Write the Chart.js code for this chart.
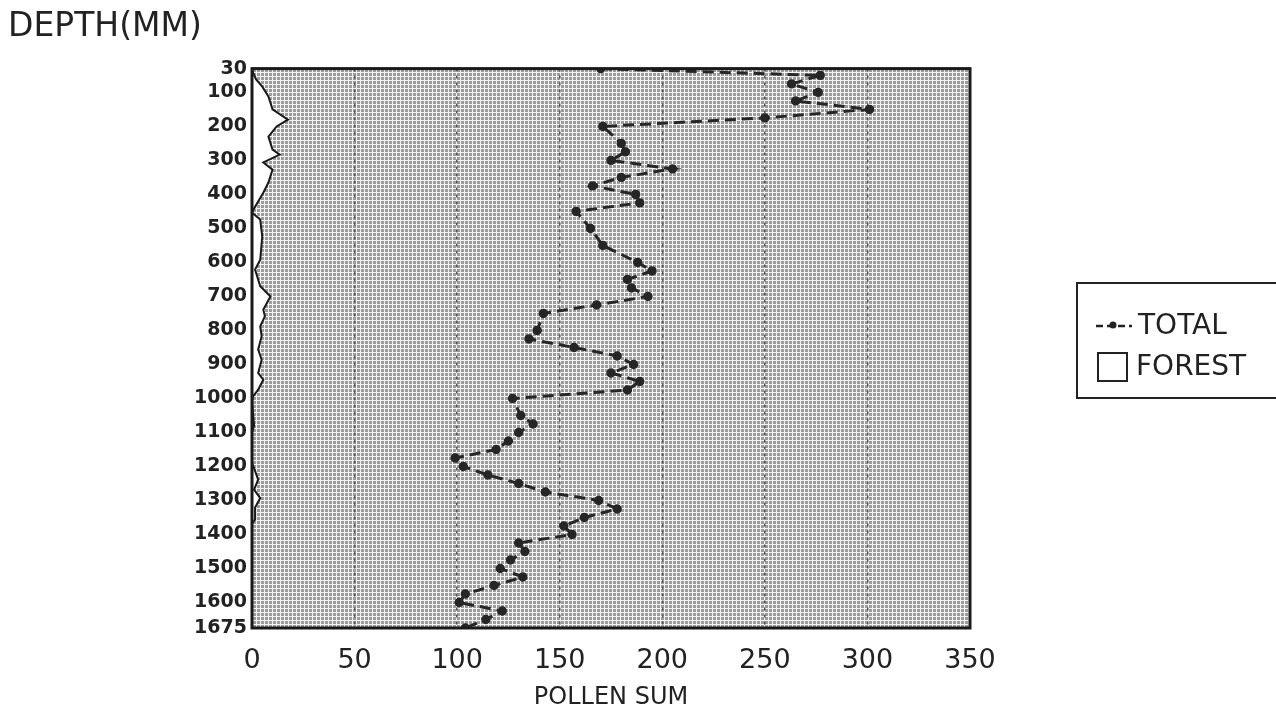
<!DOCTYPE html>
<html lang="en">
<head>
    <meta charset="UTF-8">
    <title>Pollen Sum by Depth</title>
    <style>
        html, body {
            margin: 0;
            padding: 0;
            background: #ffffff;
        }

        .chart-box {
            position: relative;
            width: 1276px;
            height: 724px;
        }
    </style>
</head>
<body>
    <div class="chart-box">
        <canvas id="pollenChart"></canvas>
    </div>

    <script src="https://cdn.jsdelivr.net/npm/chart.js"></script>
    <script>
        // depth (mm) vs total pollen sum
        const totalDepth = [30, 50, 75, 100, 125, 150, 175, 200, 250, 275, 300, 325, 350, 375, 400, 425, 450, 500, 550,
            600, 625, 650, 675, 700, 725, 750, 800, 825, 850, 875, 900, 925, 950, 975, 1000, 1050, 1075, 1100,
            1125, 1150, 1175, 1200, 1225, 1250, 1275, 1300, 1325, 1350, 1375, 1400, 1425, 1450, 1475, 1500,
            1525, 1550, 1575, 1600, 1625, 1650, 1675];
        const totalSum = [170, 277, 263, 276, 265, 301, 250, 171, 180, 182, 175, 205, 180, 166, 187, 189, 158, 165, 171,
            188, 195, 183, 185, 193, 168, 142, 139, 135, 157, 178, 186, 175, 189, 183, 127, 131, 137, 130,
            125, 119, 99, 103, 115, 130, 143, 169, 178, 162, 152, 156, 130, 133, 126, 121,
            132, 118, 104, 101, 122, 114, 104];

        // depth (mm) vs forest pollen
        const forestDepth = [30, 42, 62, 83, 112, 150, 180, 200, 230, 268, 283, 306, 327, 365, 395, 436, 454, 474, 524,
            592, 621, 670, 700, 739, 758, 788, 817, 856, 886, 925, 945, 974, 994, 1010, 1080, 1100, 1190, 1205,
            1239, 1268, 1293, 1321, 1356, 1367, 1675];
        const forestSum = [0, 0.5, 2, 5, 8, 10, 17.5, 12, 8, 10, 13.5, 5.5, 10, 8, 5.5, 1.5, 0, 4, 5,
            4, 1.5, 4, 9, 5.5, 6.3, 4, 4.7, 3, 4.7, 3, 5.5, 3, 0.5, 0, 1, 0, 0, 1,
            3, 1, 4, 1.5, 1.5, 0, 0];

        const depthTicks = [30, 100, 200, 300, 400, 500, 600, 700, 800, 900, 1000, 1100, 1200, 1300, 1400, 1500, 1600, 1675];

        const textFont = 'DejaVu Sans';

        function makePattern() {
            const tile = document.createElement('canvas');
            tile.width = 4;
            tile.height = 4;
            const t = tile.getContext('2d');
            t.fillStyle = '#f4f4f4';
            t.fillRect(0, 0, 4, 4);
            t.fillStyle = '#9c9c9c';
            t.fillRect(1, 1, 3, 3);
            return t.createPattern(tile, 'repeat');
        }

        // dotted background + frame + legend
        const paperPlugin = {
            id: 'paper',
            beforeDraw(chart) {
                const { ctx, chartArea: a } = chart;
                ctx.save();
                ctx.fillStyle = makePattern();
                ctx.fillRect(a.left, a.top, a.right - a.left, a.bottom - a.top);
                ctx.restore();
            },
            afterDatasetsDraw(chart) {
                const { ctx, chartArea: a } = chart;
                ctx.save();
                ctx.strokeStyle = '#1a1a1a';
                ctx.lineWidth = 3;
                ctx.strokeRect(a.left, a.top, a.right - a.left, a.bottom - a.top);
                ctx.restore();
            },
            afterDraw(chart) {
                const ctx = chart.ctx;
                ctx.save();
                ctx.strokeStyle = '#222';
                ctx.lineWidth = 2;
                ctx.strokeRect(1077, 283, 210, 115);

                // TOTAL symbol
                ctx.setLineDash([7, 4]);
                ctx.lineWidth = 2.5;
                ctx.beginPath();
                ctx.moveTo(1096, 326);
                ctx.lineTo(1132, 326);
                ctx.stroke();
                ctx.setLineDash([]);
                ctx.fillStyle = '#222';
                ctx.beginPath();
                ctx.arc(1113, 325, 3.5, 0, Math.PI * 2);
                ctx.fill();

                // FOREST symbol
                ctx.lineWidth = 2;
                ctx.strokeRect(1098, 353, 29, 28);

                ctx.font = '28px ' + textFont;
                ctx.textBaseline = 'middle';
                ctx.fillText('TOTAL', 1138, 327);
                ctx.fillText('FOREST', 1136, 368);
                ctx.restore();
            }
        };

        const ctx = document.getElementById('pollenChart').getContext('2d');
        const pollenChart = new Chart(ctx, {
            type: 'line',
            data: {
                datasets: [{
                    label: 'FOREST',
                    data: forestDepth.map((d, i) => ({ x: forestSum[i], y: d })),
                    borderColor: '#1a1a1a',
                    borderWidth: 2,
                    backgroundColor: '#ffffff',
                    fill: 'origin',
                    pointRadius: 0,
                    tension: 0
                }, {
                    label: 'TOTAL',
                    data: totalDepth.map((d, i) => ({ x: totalSum[i], y: d })),
                    borderColor: '#262626',
                    borderWidth: 3,
                    borderDash: [11, 6],
                    pointRadius: 3.2,
                    pointBackgroundColor: '#262626',
                    pointBorderColor: '#262626',
                    fill: false,
                    tension: 0
                }]
            },
            options: {
                indexAxis: 'y',
                responsive: true,
                maintainAspectRatio: false,
                animation: false,
                layout: {
                    padding: { left: 8, right: 306, top: 0, bottom: 0 }
                },
                scales: {
                    x: {
                        type: 'linear',
                        min: 0,
                        max: 350,
                        ticks: {
                            stepSize: 50,
                            padding: 17,
                            color: '#222',
                            font: { family: textFont, size: 27 }
                        },
                        grid: {
                            drawTicks: false,
                            lineWidth: 1.5,
                            color: (c) => (c.tick && (c.tick.value === 0 || c.tick.value === 350)) ? 'rgba(0,0,0,0)' : '#555'
                        },
                        border: { display: false, dash: [3, 4] },
                        title: {
                            display: true,
                            text: 'POLLEN SUM',
                            color: '#222',
                            font: { family: textFont, size: 24 },
                            padding: { top: 0, bottom: 12 }
                        },
                        afterFit: (s) => { s.height = 96; }
                    },
                    y: {
                        type: 'linear',
                        reverse: true,
                        min: 30,
                        max: 1675,
                        afterBuildTicks: (s) => { s.ticks = depthTicks.map(v => ({ value: v })); },
                        ticks: {
                            autoSkip: false,
                            padding: 5,
                            color: '#222',
                            font: { family: textFont, size: 19, weight: 'bold' },
                            callback: (v) => String(v)
                        },
                        grid: { display: false, drawTicks: false },
                        border: { display: false },
                        afterFit: (s) => { s.width = 244; }
                    }
                },
                plugins: {
                    legend: { display: false },
                    tooltip: { enabled: false },
                    title: {
                        display: true,
                        text: 'DEPTH(MM)',
                        align: 'start',
                        color: '#222',
                        font: { family: textFont, size: 33, weight: 'normal' },
                        padding: { top: 8, bottom: 21 }
                    }
                }
            },
            plugins: [paperPlugin]
        });
    </script>
</body>
</html>
